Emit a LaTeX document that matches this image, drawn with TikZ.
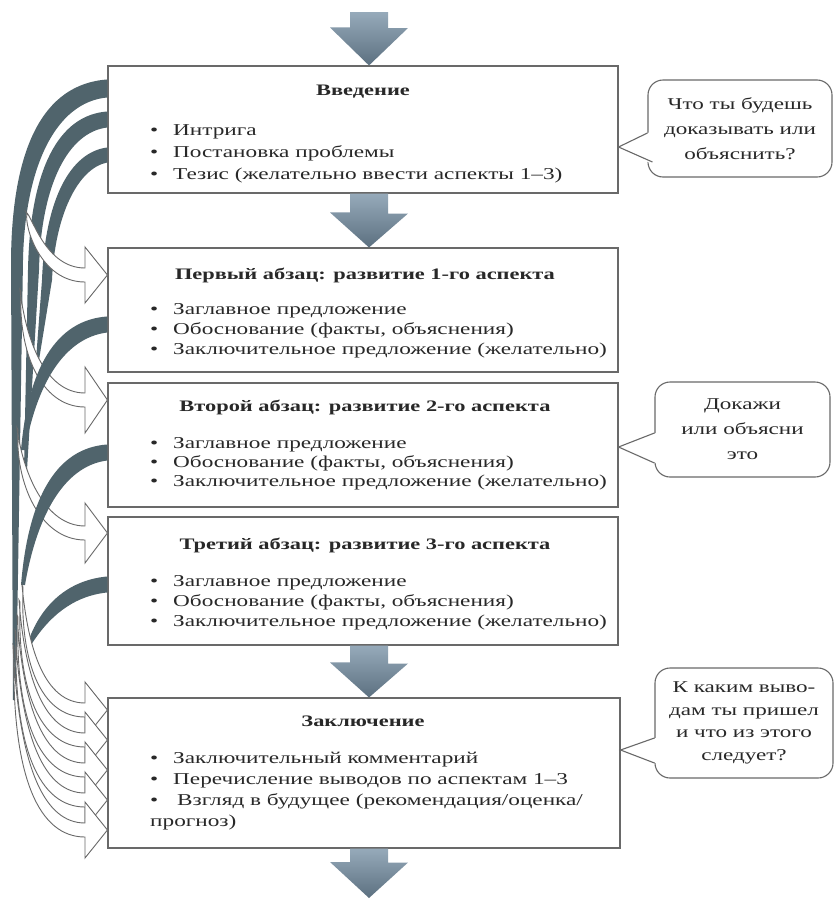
\documentclass[tikz,border=0pt]{standalone}
\usepackage{fontspec}
\setmainfont{Liberation Serif}[FakeStretch=1.4]
\usetikzlibrary{calc}
\definecolor{bandc}{RGB}{80,100,108}
\definecolor{arrowc}{RGB}{92,112,128}
\definecolor{arrowl}{RGB}{150,170,186}
\definecolor{linec}{RGB}{105,105,105}
\definecolor{txt}{RGB}{40,40,40}
\begin{document}
\begin{tikzpicture}[x=1pt,y=-1pt,
  box/.style={draw=linec, line width=1.1pt, fill=white, inner sep=0pt},
  headtxt/.style={font=\fontsize{16}{20}\selectfont\bfseries, text=txt, anchor=base, inner sep=0pt},
  itemtxt/.style={font=\fontsize{16.6}{20}\selectfont, text=txt, anchor=base west, inner sep=0pt},
  callout/.style={draw=linec, line width=1.1pt, fill=white, rounded corners=15pt, align=center,
     font=\fontsize{16.5}{25}\selectfont, text=txt, inner sep=0pt},
  blk/.style={top color=arrowl, bottom color=arrowc, draw=none},
  band/.style={fill=bandc, draw=none},
  hollowst/.style={draw=linec, line width=0.9pt, fill=white, line join=miter},
]
\useasboundingbox (0,0) rectangle (835,900);
\fill[white] (0,0) rectangle (835,900);
\newcommand{\bul}{\makebox[23pt][l]{\textbullet}}
% hollow arrow: start x, start y, tip y, target node, head half height
\newcommand{\harrow}[5]{%
  \filldraw[hollowst] (#1,#2) .. controls (#1+6,#3-60) and (45,#3-7) .. (85,#3-7)
    -- (85,#3-#5) -- (#4.west |- 0,#3) -- (85,#3+#5) -- (85,#3+7)
    .. controls (40,#3+7) and (#1-2,#3-50) .. (#1+1,#2+2) -- cycle;}

% boxes
\node[box, minimum width=510pt, minimum height=127pt] (b1) at (363,129.5) {};
\node[box, minimum width=510pt, minimum height=124pt] (b2) at (363,310) {};
\node[box, minimum width=510pt, minimum height=124pt] (b3) at (363,445) {};
\node[box, minimum width=510pt, minimum height=128pt] (b4) at (363,581) {};
\node[box, minimum width=512pt, minimum height=150pt] (b5) at (364,773) {};

\coordinate (ax) at (369,0);
\coordinate (start) at (369,12);
\coordinate (end) at (369,898);

% block arrows
\shade[blk] ($(start)+(-19,0)$) -- ++(38,0) -- ++(0,16) -- ++(20,0) -- (ax |- b1.north) -- ++(-39,-38) -- ++(20,0) -- cycle;
\shade[blk] ($(ax |- b1.south)+(-19,0)$) -- ++(38,0) -- ++(0,20) -- ++(20,0) -- (ax |- b2.north) -- ++(-39,-35) -- ++(20,0) -- cycle;
\shade[blk] ($(ax |- b4.south)+(-19,0)$) -- ++(38,0) -- ++(0,18) -- ++(20,0) -- (ax |- b5.north) -- ++(-39,-35) -- ++(20,0) -- cycle;
\shade[blk] ($(ax |- b5.south)+(-19,0)$) -- ++(38,0) -- ++(0,14) -- ++(20,0) -- (end) -- ++(-39,-36) -- ++(20,0) -- cycle;

% dark bands from introduction
\fill[band] ($(b1.north west)+(0,14)$) .. controls (42,84) and (12,150) .. (11,260) -- (13,700) -- (16,700) -- (23,260) .. controls (25,168) and (55,102) .. ($(b1.north west)+(0,32)$) -- cycle;
\fill[band] ($(b1.north west)+(0,46)$) .. controls (58,115) and (30,170) .. (28,270) -- (24,470) -- (27,470) -- (39,270) .. controls (41,185) and (68,132) .. ($(b1.north west)+(0,62)$) -- cycle;
\fill[band] ($(b1.north west)+(0,82)$) .. controls (70,152) and (45,200) .. (42,280) -- (36,360) -- (39,360) -- (52,280) .. controls (55,215) and (78,168) .. ($(b1.north west)+(0,97)$) -- cycle;

% hollow arrows into the paragraphs
\harrow{26}{212}{275}{b2}{28}
\harrow{20}{290}{400}{b3}{33}
\harrow{17}{428}{533}{b4}{30}

% dark bands from paragraphs
\fill[band] ($(b2.north west)+(0,69)$) .. controls (55,320) and (28,370) .. (21,450) -- (25,450) .. controls (36,388) and (62,338) .. ($(b2.north west)+(0,85)$) -- cycle;
\fill[band] ($(b3.north west)+(0,62)$) .. controls (55,448) and (28,500) .. (21,585) -- (25,585) .. controls (36,520) and (62,466) .. ($(b3.north west)+(0,78)$) -- cycle;
\fill[band] ($(b4.north west)+(0,60)$) .. controls (68,580) and (40,605) .. (27,645) -- (31,645) .. controls (48,618) and (72,596) .. ($(b4.north west)+(0,76)$) -- cycle;

% hollow arrows into the conclusion
\harrow{22}{585}{710}{b5}{28}
\harrow{19}{600}{740}{b5}{28}
\harrow{17}{615}{770}{b5}{28}
\harrow{15}{630}{800}{b5}{28}
\harrow{13}{645}{830}{b5}{28}

% box texts
\node[headtxt] (h1) at (363,95) {Введение};
\node[itemtxt] (b1i1) at (150,135) {\bul Интрига};
\node[itemtxt] (b1i2) at (150,157) {\bul Постановка проблемы};
\node[itemtxt] (b1i3) at (150,179) {\bul Тезис (желательно ввести аспекты 1–3)};

\node[headtxt] (h2) at (365,279) {Первый абзац: развитие 1-го аспекта};
\node[itemtxt] (b2i1) at (150,314) {\bul Заглавное предложение};
\node[itemtxt] (b2i2) at (150,334) {\bul Обоснование (факты, объяснения)};
\node[itemtxt] (b2i3) at (150,354) {\bul Заключительное предложение (желательно)};

\node[headtxt] (h3) at (365,411) {Второй абзац: развитие 2-го аспекта};
\node[itemtxt] (b3i1) at (150,448) {\bul Заглавное предложение};
\node[itemtxt] (b3i2) at (150,467) {\bul Обоснование (факты, объяснения)};
\node[itemtxt] (b3i3) at (150,486) {\bul Заключительное предложение (желательно)};

\node[headtxt] (h4) at (365,549) {Третий абзац: развитие 3-го аспекта};
\node[itemtxt] (b4i1) at (150,586) {\bul Заглавное предложение};
\node[itemtxt] (b4i2) at (150,606) {\bul Обоснование (факты, объяснения)};
\node[itemtxt] (b4i3) at (150,626) {\bul Заключительное предложение (желательно)};

\node[headtxt] (h5) at (363,726) {Заключение};
\node[itemtxt] (b5i1) at (150,763) {\bul Заключительный комментарий};
\node[itemtxt] (b5i2) at (150,784) {\bul Перечисление выводов по аспектам 1–3};
\node[itemtxt] (b5i3) at (150,805) {\bul\hspace{4pt}Взгляд в будущее (рекомендация/оценка/};
\node[itemtxt] (b5i4) at (150,826) {прогноз)};

% callouts
\node[callout, minimum width=184pt, minimum height=97pt] (c1) at (740,128.5) {Что ты будешь\\доказывать или\\объяснить?};
\node[callout, minimum width=175pt, minimum height=95pt] (c2) at (742.5,429.5) {Докажи\\или объясни\\это};
\node[callout, minimum width=178pt, minimum height=110pt, font=\fontsize{16.5}{22.7}\selectfont] (c3) at (744,723) {К каким выво-\\дам ты пришел\\и что из этого\\следует?};

% callout pointers
\fill[white] ($(c1.west)+(1.5,4)$) -- (b1.east |- 0,147) -- ($(c1.west)+(1.5,34)$) -- cycle;
\draw[draw=linec, line width=1.1pt, line join=miter] ($(c1.west)+(0,4.5)$) -- (b1.east |- 0,147) -- ($(c1.west)+(5,33.5)$);
\fill[white] ($(c2.west)+(1.5,3.5)$) -- (b3.east |- 0,447) -- ($(c2.west)+(1.5,33.5)$) -- cycle;
\draw[draw=linec, line width=1.1pt, line join=miter] ($(c2.west)+(0,3.5)$) -- (b3.east |- 0,447) -- ($(c2.west)+(0,33.5)$);
\fill[white] ($(c3.west)+(1.5,15)$) -- (b5.east |- 0,750) -- ($(c3.west)+(1.5,40)$) -- cycle;
\draw[draw=linec, line width=1.1pt, line join=miter] ($(c3.west)+(0,15)$) -- (b5.east |- 0,750) -- ($(c3.west)+(0,40)$);
\end{tikzpicture}
\end{document}
